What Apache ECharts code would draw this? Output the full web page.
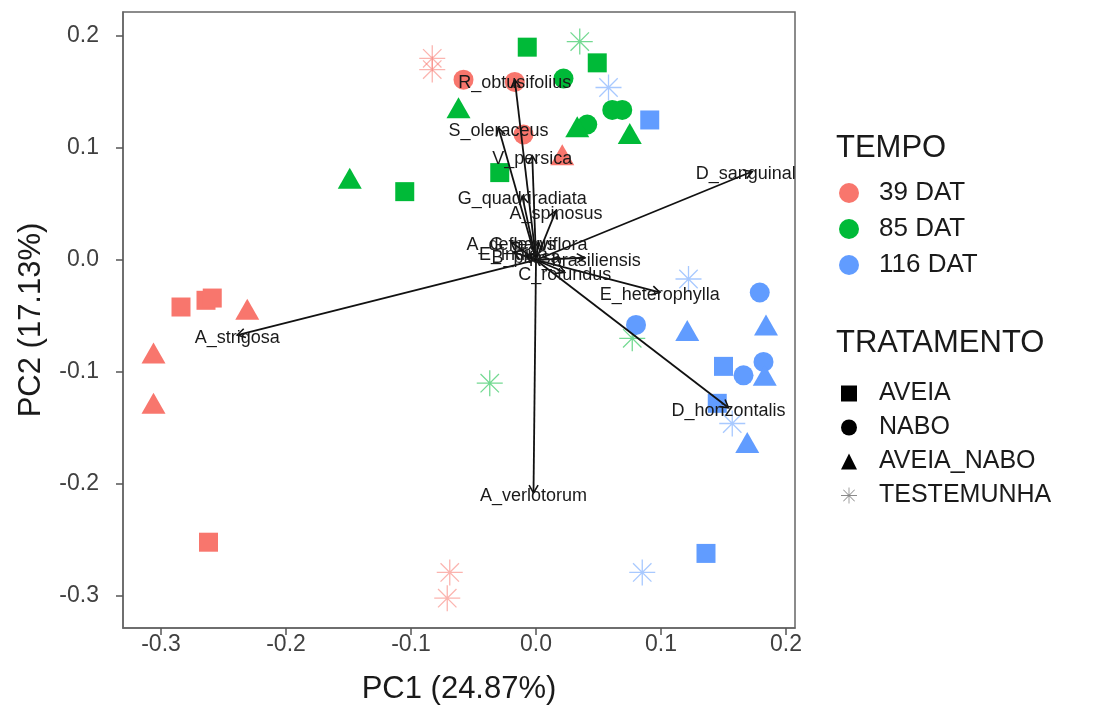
<!DOCTYPE html>
<html>
<head>
<meta charset="utf-8">
<script src="https://cdn.jsdelivr.net/npm/echarts@6/dist/echarts.min.js"></script>
<style>
  html, body { margin: 0; padding: 0; background: #fff; }
  #chart { width: 1093px; height: 707px; }
</style>
</head>
<body>
<div id="chart"></div>
<script>
// ---------- DATA ----------
const xTicks = [-0.3, -0.2, -0.1, 0.0, 0.1, 0.2];
const yTicks = [-0.3, -0.2, -0.1, 0.0, 0.1, 0.2];

const tempoNames = ['39 DAT', '85 DAT', '116 DAT'];
const tratNames = ['AVEIA', 'NABO', 'AVEIA_NABO', 'TESTEMUNHA'];

// scores [PC1, PC2] for each TEMPO x TRATAMENTO
const dat39_aveia = [[-0.284, -0.042], [-0.264, -0.036], [-0.259, -0.034], [-0.262, -0.252]];
const dat39_nabo = [[-0.058, 0.161], [-0.017, 0.159], [-0.010, 0.112]];
const dat39_aveiaNabo = [[-0.231, -0.044], [-0.306, -0.083], [-0.306, -0.128], [0.021, 0.094]];
const dat39_testemunha = [[-0.083, 0.180], [-0.083, 0.170], [-0.069, -0.279], [-0.071, -0.302]];

const dat85_aveia = [[-0.007, 0.190], [0.049, 0.176], [-0.029, 0.078], [-0.105, 0.061]];
const dat85_nabo = [[0.022, 0.162], [0.041, 0.121], [0.061, 0.134], [0.069, 0.134]];
const dat85_aveiaNabo = [[-0.062, 0.136], [0.033, 0.119], [0.075, 0.113], [-0.149, 0.073]];
const dat85_testemunha = [[0.035, 0.195], [0.077, -0.070], [-0.037, -0.110]];

const dat116_aveia = [[0.091, 0.125], [0.150, -0.095], [0.145, -0.128], [0.136, -0.262]];
const dat116_nabo = [[0.179, -0.029], [0.080, -0.058], [0.166, -0.103], [0.182, -0.091]];
const dat116_aveiaNabo = [[0.121, -0.063], [0.184, -0.058], [0.183, -0.103], [0.169, -0.163]];
const dat116_testemunha = [[0.058, 0.154], [0.122, -0.017], [0.157, -0.146], [0.085, -0.279]];

// species loadings (arrows)
const loadingNames = ['R_obtusifolius', 'S_oleraceus', 'V_persica', 'G_quadriradiata', 'A_spinosus',
  'D_sanguinalis', 'E_heterophylla', 'D_horizontalis', 'A_verlotorum', 'A_strigosa',
  'C_rotundus', 'R_brasiliensis', 'A_deflexus', 'G_parviflora', 'E_indica', 'B_pilosa'];
const loadingPC1 = [-0.017, -0.030, -0.003, -0.011, 0.016, 0.173, 0.099, 0.154, -0.002, -0.239,
  0.023, 0.039, -0.020, 0.002, -0.018, -0.008];
const loadingPC2 = [0.161, 0.118, 0.093, 0.057, 0.044, 0.079, -0.029, -0.132, -0.208, -0.067,
  -0.011, 0.002, 0.016, 0.016, 0.007, 0.004];

// ---------- STYLE ----------
const FONT = 'Liberation Sans, Arial, sans-serif';
const tempoColors = ['#F8766D', '#00BA38', '#619CFF'];
const starPath = 'path://M11.4,0L12.6,0L12.6,24L11.4,24Z M0,11.4L24,11.4L24,12.6L0,12.6Z M3.08,3.92L3.92,3.08L20.92,20.08L20.08,20.92Z M20.08,3.08L20.92,3.92L3.92,20.92L3.08,20.08Z';
const tratSymbols = ['rect', 'circle', 'triangle', starPath];
const tratSizes = [19, 20, [24, 21], 26];

const groups = [
  [dat39_aveia, dat39_nabo, dat39_aveiaNabo, dat39_testemunha],
  [dat85_aveia, dat85_nabo, dat85_aveiaNabo, dat85_testemunha],
  [dat116_aveia, dat116_nabo, dat116_aveiaNabo, dat116_testemunha]
];

const series = [];
groups.forEach((g, ti) => {
  g.forEach((d, si) => {
    series.push({
      type: 'scatter',
      name: tempoNames[ti] + ' / ' + tratNames[si],
      data: d,
      symbol: tratSymbols[si],
      symbolSize: tratSizes[si],
      itemStyle: { color: tempoColors[ti], opacity: si === 3 ? 0.55 : 1 },
      z: 2,
      silent: true
    });
  });
});

// legend-only series
tempoNames.forEach((n, i) => series.push({
  type: 'scatter', name: n, data: [], symbol: 'circle',
  itemStyle: { color: tempoColors[i], opacity: 1 }
}));
tratNames.forEach((n, i) => series.push({
  type: 'scatter', name: n, data: [], symbol: tratSymbols[i],
  itemStyle: { color: i === 3 ? '#8a8a8a' : '#000', opacity: 1 }
}));

// arrows
const loadingData = loadingNames.map((n, i) => [loadingPC1[i], loadingPC2[i]]);
series.push({
  type: 'custom',
  name: 'loadings',
  data: loadingData,
  encode: { x: 0, y: 1 },
  clip: true,
  z: 5,
  silent: true,
  renderItem: function (params, api) {
    const o = api.coord([0, 0]);
    const p = api.coord([api.value(0), api.value(1)]);
    const ang = Math.atan2(p[1] - o[1], p[0] - o[0]);
    const L = 9, a = Math.PI / 6;
    const w1 = [p[0] - L * Math.cos(ang - a), p[1] - L * Math.sin(ang - a)];
    const w2 = [p[0] - L * Math.cos(ang + a), p[1] - L * Math.sin(ang + a)];
    return {
      type: 'group',
      children: [
        { type: 'line', shape: { x1: o[0], y1: o[1], x2: p[0], y2: p[1] },
          style: { stroke: '#111', lineWidth: 1.8 } },
        { type: 'polyline', shape: { points: [w1, p, w2] },
          style: { stroke: '#111', lineWidth: 1.6, fill: null } },
        { type: 'text', x: p[0], y: p[1] + 3,
          style: { text: loadingNames[params.dataIndex], fill: '#1a1a1a', font: '18px ' + FONT,
                   align: 'center', verticalAlign: 'middle' } }
      ]
    };
  }
});

const chart = echarts.init(document.getElementById('chart'), null, { renderer: 'canvas' });
chart.setOption({
  animation: false,
  backgroundColor: '#fff',
  textStyle: { fontFamily: FONT },
  grid: { left: 123, top: 12, width: 672, height: 616, show: true, containLabel: false,
          outerBoundsMode: 'none',
          borderColor: '#666', borderWidth: 1.5, backgroundColor: '#fff' },
  xAxis: {
    type: 'value', min: -0.3304, max: 0.2072,
    axisLine: { show: true, onZero: false, lineStyle: { color: '#666', width: 1.5 } },
    axisTick: { show: true, customValues: xTicks, length: 7, lineStyle: { color: '#555', width: 1.5 } },
    axisLabel: { customValues: xTicks, formatter: v => v.toFixed(1), fontSize: 23, color: '#404040',
                 margin: 5, fontFamily: FONT },
    splitLine: { show: false },
    name: 'PC1 (24.87%)', nameLocation: 'middle', nameGap: 46,
    nameTextStyle: { fontSize: 31, color: '#1a1a1a', fontFamily: FONT }
  },
  yAxis: {
    type: 'value', min: -0.3286, max: 0.2214,
    axisLine: { show: true, onZero: false, lineStyle: { color: '#666', width: 1.5 } },
    axisTick: { show: true, customValues: yTicks, length: 7, lineStyle: { color: '#555', width: 1.5 } },
    axisLabel: { customValues: yTicks, formatter: v => v.toFixed(1), fontSize: 23, color: '#404040',
                 margin: 24, fontFamily: FONT },
    splitLine: { show: false },
    name: 'PC2 (17.13%)', nameLocation: 'middle', nameGap: 76, nameRotate: 90,
    nameTextStyle: { fontSize: 31, color: '#1a1a1a', fontFamily: FONT }
  },
  legend: [
    { data: tempoNames, orient: 'vertical', left: 839, top: 180, itemWidth: 20, itemHeight: 20,
      itemGap: 10, padding: 0, selectedMode: false,
      textStyle: { fontSize: 26, color: '#1a1a1a', fontFamily: FONT, padding: [0, 0, 0, 15] } },
    { data: tratNames, orient: 'vertical', left: 841, top: 381, itemWidth: 16, itemHeight: 16,
      itemGap: 9, padding: 0, selectedMode: false,
      textStyle: { fontSize: 25, color: '#1a1a1a', fontFamily: FONT, padding: [0, 0, 0, 17] } }
  ],
  graphic: [
    { type: 'text', left: 836, top: 133, style: { text: 'TEMPO', font: '31px ' + FONT, fill: '#1a1a1a' } },
    { type: 'text', left: 836, top: 328, style: { text: 'TRATAMENTO', font: '31px ' + FONT, fill: '#1a1a1a' } }
  ],
  series: series
});
</script>
</body>
</html>
